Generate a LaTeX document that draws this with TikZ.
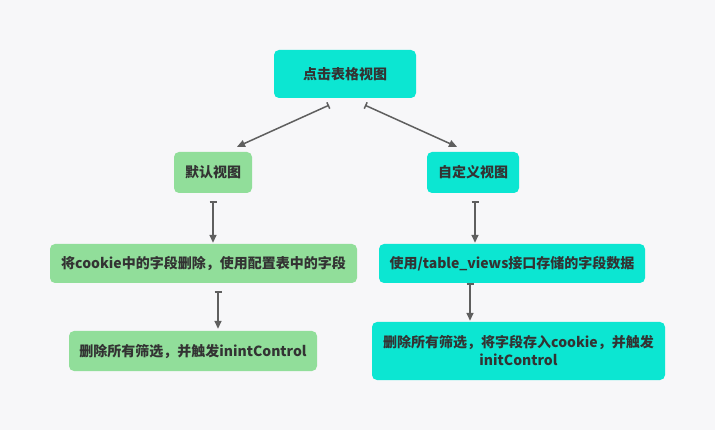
\documentclass[tikz,border=0pt]{standalone}
\usepackage{fontspec}
\setmainfont{Noto Sans CJK SC}
\usetikzlibrary{arrows.meta, positioning}
\definecolor{turq}{RGB}{12,230,210}
\definecolor{mint}{RGB}{145,222,154}
\definecolor{bgcol}{RGB}{247,247,249}
\definecolor{inkcol}{RGB}{51,51,51}
\definecolor{linkcol}{RGB}{95,95,95}

\begin{document}
\begin{tikzpicture}[x=1pt, y=-1pt, every node/.style={font=\fontsize{14}{18}\selectfont\bfseries, text=inkcol}]
\tikzstyle{box} = [rectangle, rounded corners=5pt, inner sep=0pt, align=center]
\tikzstyle{link} = [{Bar[width=7pt,line width=1.5pt]}-{Triangle[length=8pt,width=7pt]}, line width=1.5pt, draw=linkcol]

% Background
\fill[bgcol] (0,0) rectangle (715,430);
\useasboundingbox (0,0) rectangle (715,430);

% Nodes
\node[box, fill=turq, minimum width=142pt, minimum height=48pt] (click) at (345,74) {点击表格视图};
\node[box, fill=mint, minimum width=78pt, minimum height=41pt] (dflt) at (213,172.5) {默认视图};
\node[box, fill=turq, minimum width=92pt, minimum height=41pt] (custom) at (473,172.5) {自定义视图};
\node[box, fill=mint, minimum width=307pt, minimum height=39pt] (cookie) at (203.5,263.5) {将cookie中的字段删除，使用配置表中的字段};
\node[box, fill=turq, minimum width=266pt, minimum height=39pt] (tviews) at (512,263.5) {使用/table\_views接口存储的字段数据};
\node[box, fill=mint, minimum width=248pt, minimum height=40pt] (resetL) at (193,351) {删除所有筛选，并触发inintControl};
\node[box, fill=turq, minimum width=293pt, minimum height=58pt] (resetR) at (518.5,351) {删除所有筛选，将字段存入cookie，并触发\\initControl};

% Arrows
\draw[link] ([shift={(-16,7)}]click.south) -- ([shift={(24,-5)}]dflt.north);
\draw[link] ([shift={(20,7)}]click.south) -- ([shift={(-16,-5)}]custom.north);
\draw[link] ([shift={(0,8)}]dflt.south) -- ([shift={(9.5,-1)}]cookie.north);
\draw[link] ([shift={(14.5,8)}]cookie.south) -- ([shift={(25,-2)}]resetL.north);
\draw[link] ([shift={(2,8)}]custom.south) -- ([shift={(-37,-1)}]tviews.north);
\draw[link] ([shift={(-42,0)}]tviews.south) -- ([shift={(-48.5,-1)}]resetR.north);

\end{tikzpicture}
\end{document}
